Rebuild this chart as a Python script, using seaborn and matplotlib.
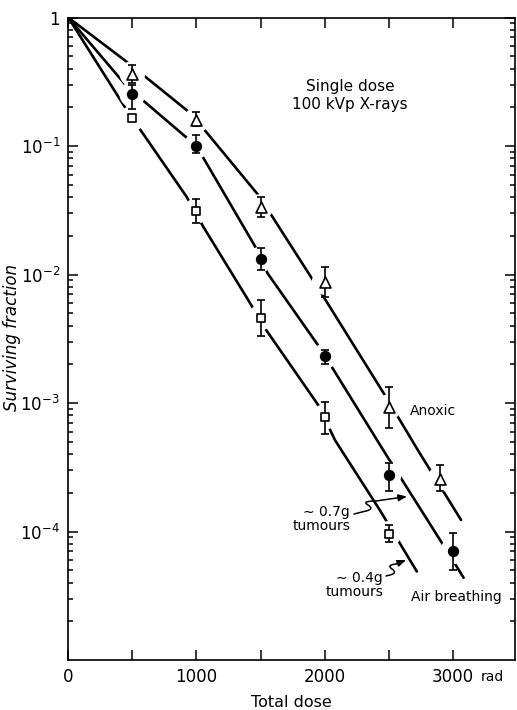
import matplotlib
matplotlib.use("Agg")
import matplotlib.pyplot as plt
from matplotlib.path import Path
from matplotlib.patches import FancyArrowPatch
from matplotlib.transforms import Affine2D
import seaborn as sns
import numpy as np

# measured points (dose in rad, surviving fraction, error bar limits)
anox_dose = [500, 1000, 1500, 2000, 2500, 2900]
anox_sf = [0.365, 0.159, 0.0336, 0.00875, 9.3e-4, 2.55e-4]
anox_lo = [0.309, 0.144, 0.0278, 0.0067, 6.35e-4, 2.06e-4]
anox_hi = [0.427, 0.183, 0.0402, 0.01146, 1.33e-3, 3.27e-4]

air_dose = [500, 1000, 1500, 2000, 2500, 3000]
air_sf = [0.252, 0.100, 0.0131, 0.00231, 2.77e-4, 7.0e-5]
air_lo = [0.193, 0.0885, 0.01094, 0.00203, 2.06e-4, 5.04e-5]
air_hi = [0.298, 0.1216, 0.01595, 0.0026, 3.41e-4, 9.8e-5]

small_dose = [500, 1000, 1500, 2000, 2500]
small_sf = [0.164, 0.0313, 0.00462, 7.78e-4, 9.6e-5]
small_lo = [0.164, 0.0251, 0.0033, 5.78e-4, 8.27e-5]
small_hi = [0.164, 0.0386, 0.0063, 1.02e-3, 1.115e-4]

# hand-drawn curves (dose, log10 surviving fraction)
anox_curve_x = [0, 470, 960, 1250, 1490, 1965, 2490, 2730, 3065]
anox_curve_log = [0, -0.355, -0.75, -1.10, -1.39, -2.13, -2.97, -3.37, -3.91]
air_curve_x = [0, 460, 1000, 1460, 1555, 1970, 2460, 2980, 3085]
air_curve_log = [0, -0.54, -1.0, -1.785, -1.99, -2.58, -3.37, -4.19, -4.36]
small_curve_x = [0, 456, 924, 1054, 1405, 1536, 1952, 2082, 2433, 2720]
small_curve_log = [0, -0.72, -1.396, -1.629, -2.2, -2.42, -3.018, -3.29, -3.836, -4.311]

x_ticks = [0, 500, 1000, 1500, 2000, 2500, 3000]
x_ticklabels = ["0", "", "1000", "", "2000", "", "3000"]
y_ticks = [1, 1e-1, 1e-2, 1e-3, 1e-4]
y_ticklabels = ["1", "$10^{-1}$", "$10^{-2}$", "$10^{-3}$", "$10^{-4}$"]

sns.set_style("ticks")
plt.rcParams["font.family"] = ["DejaVu Sans"]
plt.rcParams["mathtext.fontset"] = "dejavusans"
plt.rcParams["text.color"] = "black"
plt.rcParams["axes.labelcolor"] = "black"
plt.rcParams["xtick.color"] = "black"
plt.rcParams["ytick.color"] = "black"

fig = plt.figure(figsize=(5.17, 7.10), dpi=100)
ax = fig.add_axes([0.1321, 0.0704, 0.8640, 0.9049])
ax.set_yscale("log")

# curves
for cx, cl in [(anox_curve_x, anox_curve_log),
               (air_curve_x, air_curve_log),
               (small_curve_x, small_curve_log)]:
    sns.lineplot(x=cx, y=10 ** np.array(cl), ax=ax, color="black", lw=1.9,
                 estimator=None, sort=False, zorder=2)

# white halos so the curves break around the points
all_dose = anox_dose + air_dose + small_dose
all_sf = anox_sf + air_sf + small_sf
sns.scatterplot(x=all_dose, y=all_sf, ax=ax, s=340, color="white",
                edgecolor="none", linewidth=0, zorder=3)

sets = [
    (anox_dose, anox_sf, anox_lo, anox_hi, "^", "white", 62),
    (air_dose, air_sf, air_lo, air_hi, "o", "black", 48),
    (small_dose, small_sf, small_lo, small_hi, "s", "white", 40),
]
for d, sf, lo, hi, mk, fc, sz in sets:
    sf = np.array(sf)
    yerr = [sf - np.array(lo), np.array(hi) - sf]
    ax.errorbar(d, sf, yerr=yerr, fmt="none", ecolor="black", elinewidth=1.2,
                capsize=3, capthick=1.2, zorder=4)
    sns.scatterplot(x=d, y=sf, ax=ax, marker=mk, s=sz, color=fc,
                    edgecolor="black", linewidth=1.2, zorder=5)

ax.set_xlim(0, 3486)
ax.set_ylim(1e-5, 1)
ax.set_xticks(x_ticks)
ax.set_xticklabels(x_ticklabels)
ax.set_yticks(y_ticks)
ax.set_yticklabels(y_ticklabels)
ax.tick_params(which="both", direction="in", top=True, right=True,
               labelsize=12, width=1.1, pad=6)
ax.tick_params(which="major", length=7)
ax.tick_params(which="minor", length=3.5)
for s in ax.spines.values():
    s.set_linewidth(1.2)
    s.set_color("black")

ax.annotate("rad", xy=(3000, 0), xycoords=("data", "axes fraction"),
            xytext=(20, -12.5), textcoords="offset points", fontsize=10,
            ha="left", va="center")

ax.set_xlabel("Total dose", fontsize=11.5, labelpad=6)
ax.set_ylabel("Surviving fraction", fontsize=12, style="italic")
ax.yaxis.set_label_coords(-0.106, 0.502)

ax.text(2199, 0.247, "Single dose\n100 kVp X-rays", fontsize=11,
        ha="center", va="center", linespacing=1.25)
ax.text(2667, 8.67e-4, "Anoxic", fontsize=10, ha="left", va="center")
ax.text(2675, 3.08e-5, "Air breathing", fontsize=10, ha="left", va="center")
ax.text(2199, 1.256e-4, "\u223c 0.7g\ntumours", fontsize=10, ha="right",
        va="center", multialignment="right", linespacing=1.0)
ax.text(2456, 3.84e-5, "\u223c 0.4g\ntumours", fontsize=10, ha="right",
        va="center", multialignment="right", linespacing=1.0)

# squiggly arrows, in picture pixels (y down)
pix = Affine2D().scale(1, -1).translate(0, 710)
squiggles = [
    [(354, 514), (366, 511), (375, 509), (368, 505), (361, 501), (376, 501), (407, 496.5)],
    [(386, 576), (390, 575), (398, 573), (392, 569), (386, 565), (396, 564), (406, 560)],
]
codes = [Path.MOVETO, Path.LINETO, Path.CURVE3, Path.CURVE3,
         Path.CURVE3, Path.CURVE3, Path.LINETO]
for v in squiggles:
    arr = FancyArrowPatch(path=Path(v, codes), arrowstyle="-|>,head_length=5,head_width=2",
                          color="black", lw=1.1, transform=pix)
    fig.add_artist(arr)

fig.savefig("out.png", dpi=100)
